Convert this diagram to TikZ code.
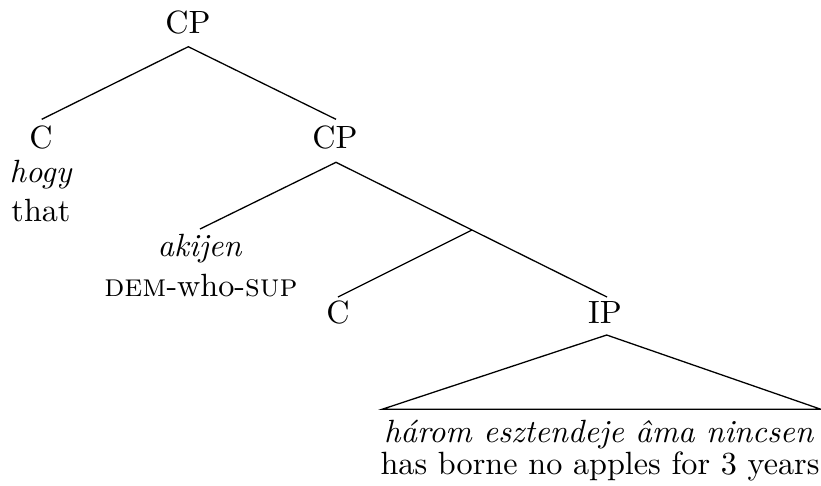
\documentclass[tikz,border=0pt]{standalone}
\begin{document}
\begin{tikzpicture}[x=0.3107pt,y=-0.3107pt,
  lab/.style={anchor=base,inner sep=0pt,font=\normalsize},
  branch/.style={line width=0.4pt}]
\useasboundingbox (0,0) rectangle (821,485);

% labels
\node[lab] (cp1) at (188,33) {CP};
\node[lab] (c1) at (41,148) {C};
\node[lab] (c1w) at (41,182) {\textit{hogy}};
\node[lab] (c1g) at (41,221) {that};
\node[lab] (cp2) at (335,148) {CP};
\node[lab] (spec) at (200,256) {\textit{akijen}};
\node[lab] (specg) at (201,296) {\textsc{dem}-who-\textsc{sup}};
\node[lab] (c2) at (338,323) {C};
\node[lab] (ip) at (605,323) {IP};
\node[lab] (ipw) at (599,442) {\textit{három esztendeje âma nincsen}};
\node[lab] (ipg) at (600,474) {has borne no apples for 3 years};

% attachment points of the branches
\coordinate (cp1-b) at (188.3,46.7);
\coordinate (c1-t) at (41.7,119.3);
\coordinate (cp2-t) at (336,119.3);
\coordinate (cp2-b) at (336,162.3);
\coordinate (spec-t) at (200,229);
\coordinate (cbar) at (472,230);
\coordinate (c2-t) at (338,297);
\coordinate (ip-t) at (607,297);
\coordinate (ip-b) at (606.7,335);
\coordinate (tri-l) at (382,409.3);
\coordinate (tri-r) at (821,409.3);

% branches
\draw[branch] (c1-t) -- (cp1-b) -- (cp2-t);
\draw[branch] (spec-t) -- (cp2-b) -- (cbar) -- (ip-t);
\draw[branch] (c2-t) -- (cbar);
\draw[branch] (tri-l) -- (ip-b) -- (tri-r) -- cycle;
\end{tikzpicture}
\end{document}
